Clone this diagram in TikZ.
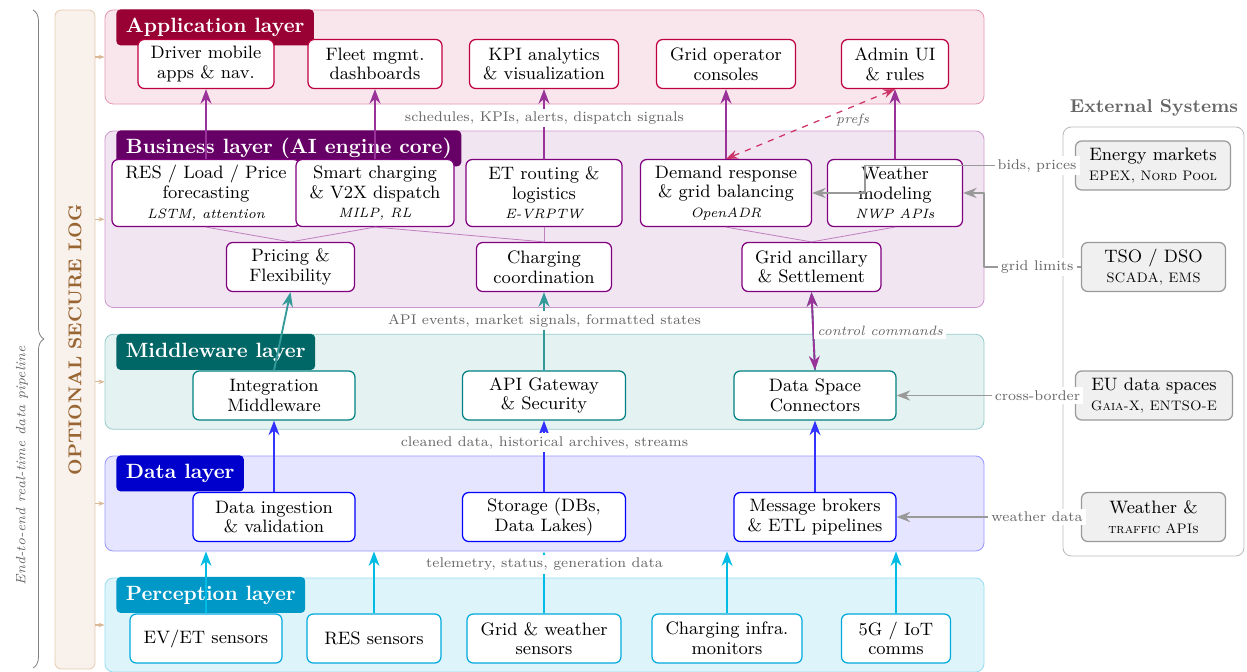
\documentclass[tikz,border=0pt]{standalone}
\usepackage{fontspec}
\usetikzlibrary{arrows.meta,decorations.pathreplacing}
\definecolor{sensor}{HTML}{00AADD}

\begin{document}
\begin{tikzpicture}[x=0.484pt, y=-0.484pt, line join=round, >=Stealth,
	layer/.style={draw=#1!40, fill=#1!10, rounded corners=4pt, inner sep=0pt, minimum width=879*0.484pt},
	lh/.style={minimum height=#1*0.484pt},
	tag/.style={fill=#1, text=white, font=\bfseries, rounded corners=2pt, anchor=north west, inner xsep=4.6pt, minimum height=17.4pt},
	box/.style={draw=#1, fill=white, semithick, rounded corners=3pt, align=center, inner xsep=5.5pt, inner ysep=2pt, minimum height=23.7pt, font=\fontsize{8.7}{9.5}\selectfont},
	tall/.style={minimum height=32.4pt},
	bw/.style={minimum width=#1*0.484pt},
	extbox/.style={box=black!40, fill=black!6},
	note/.style={fill=white, text=black!60, font=\fontsize{6.8}{8}\selectfont, inner sep=1.5pt},
	it/.style={font=\fontsize{6.55}{8}\selectfont\itshape},
	link/.style={violet!50, thin},
	flow/.style={->, line width=0.9pt, #1},
	extlink/.style={->, thick, black!40},
	logarrow/.style={-{Stealth[length=3pt]}, semithick, brown!55}]
	\useasboundingbox (0,0) rectangle (1247,671);

	% secure log column and pipeline brace
	\node[draw=brown!40, fill=brown!10, rounded corners=3pt, inner sep=0pt, minimum width=40*0.484pt, minimum height=659*0.484pt] (log) at (75,339.5) {};
	\node[rotate=90, font=\small\bfseries, text=brown!80!black] (logtxt) at (75,340) {OPTIONAL SECURE LOG};
	\draw[decorate, decoration={brace, amplitude=5.3pt}, black!50] (33,10) -- (33,668);
	\node[rotate=90, anchor=east, it, text=black!60] (pipe) at (22,339) {End-to-end real-time data pipeline};

	% layers
	\node[layer=purple, lh=94] (app) at (544.5,57) {};
	\node[layer=violet, lh=176.5] (bus) at (544.5,219.25) {};
	\node[layer=teal, lh=95] (mid) at (544.5,381.8) {};
	\node[layer=blue, lh=95] (data) at (544.5,503.5) {};
	\node[layer=sensor, lh=94, fill=sensor!13] (perc) at (544.5,625) {};

	\node[tag=purple!80!black] (apptag) at (116,9) {Application layer};
	\node[tag=violet!80!black] (bustag) at (116,130) {Business layer (AI engine core)};
	\node[tag=teal!80!black] (midtag) at (116,333.5) {Middleware layer};
	\node[tag=blue!80!black] (datatag) at (116,455) {Data layer};
	\node[tag=sensor!90!black] (perctag) at (116,576.5) {Perception layer};

	\draw[logarrow] (log.east |- app.west) -- (app.west);
	\draw[logarrow] (log.east |- bus.west) -- (bus.west);
	\draw[logarrow] (log.east |- mid.west) -- (mid.west);
	\draw[logarrow] (log.east |- data.west) -- (data.west);
	\draw[logarrow] (log.east |- perc.west) -- (perc.west);

	% application
	\node[box=purple, bw=136] (drv) at (206,64) {Driver mobile\\apps \& nav.};
	\node[box=purple, bw=134] (fleet) at (375,64) {Fleet mgmt.\\dashboards};
	\node[box=purple, bw=149] (kpi) at (544,64) {KPI analytics\\\& visualization};
	\node[box=purple, bw=139] (gridop) at (726,64) {Grid operator\\consoles};
	\node[box=purple, bw=107] (admin) at (895,64) {Admin UI\\\& rules};

	% business
	\node[box=violet, tall, bw=188] (fcst) at (206,193) {RES / Load / Price\\forecasting\\{\fontsize{6.55}{8}\selectfont\itshape LSTM, attention}};
	\node[box=violet, tall, bw=158] (smart) at (375,193) {Smart charging\\\& V2X dispatch\\{\fontsize{6.55}{8}\selectfont\itshape MILP, RL}};
	\node[box=violet, tall, bw=156] (route) at (544,193) {ET routing \&\\logistics\\{\fontsize{6.55}{8}\selectfont\itshape E-VRPTW}};
	\node[box=violet, tall, bw=171] (dr) at (726,193) {Demand response\\\& grid balancing\\{\fontsize{6.55}{8}\selectfont\itshape OpenADR}};
	\node[box=violet, tall, bw=135] (wxm) at (895,193) {Weather\\modeling\\{\fontsize{6.55}{8}\selectfont\itshape NWP APIs}};
	\node[box=violet, bw=128] (price) at (290.5,267) {Pricing \&\\Flexibility};
	\node[box=violet, bw=135] (chg) at (544,267) {Charging\\coordination};
	\node[box=violet, bw=139] (anc) at (811.5,267) {Grid ancillary\\\& Settlement};

	% middleware
	\node[box=teal, bw=162] (integ) at (274,395.5) {Integration\\Middleware};
	\node[box=teal, bw=163] (apigw) at (544,395.5) {API Gateway\\\& Security};
	\node[box=teal, bw=162] (dsc) at (815,395.5) {Data Space\\Connectors};

	% data
	\node[box=blue, bw=162] (ingest) at (274,517) {Data ingestion\\\& validation};
	\node[box=blue, bw=163] (store) at (544,517) {Storage (DBs,\\Data Lakes)};
	\node[box=blue, bw=162] (msg) at (815,517) {Message brokers\\\& ETL pipelines};

	% perception
	\node[box=sensor, bw=152] (evs) at (206,638.5) {EV/ET sensors};
	\node[box=sensor, bw=134] (ress) at (374,638.5) {RES sensors};
	\node[box=sensor, bw=154] (gws) at (544,638.5) {Grid \& weather\\sensors};
	\node[box=sensor, bw=150] (cim) at (727,638.5) {Charging infra.\\monitors};
	\node[box=sensor, bw=109] (iot) at (896,638.5) {5G / IoT\\comms};

	% external systems
	\node[draw=black!27, rounded corners=4pt, inner sep=0pt, minimum width=181*0.484pt, minimum height=429*0.484pt] (extpanel) at (1153.5,341.5) {};
	\node[font=\small\bfseries, text=black!60] (exttitle) at (1154,108) {External Systems};
	\node[extbox, bw=155] (mkt) at (1153,165.5) {Energy markets\\{\fontsize{6.65}{8}\selectfont\scshape EPEX, Nord Pool}};
	\node[extbox, bw=144] (tso) at (1153.5,267) {TSO / DSO\\{\fontsize{6.65}{8}\selectfont\scshape SCADA, EMS}};
	\node[extbox, bw=157] (eu) at (1154,395.5) {EU data spaces\\{\fontsize{6.65}{8}\selectfont\scshape Gaia-X, ENTSO-E}};
	\node[extbox, bw=144] (wxa) at (1153.5,517) {Weather \&\\{\fontsize{6.65}{8}\selectfont\scshape traffic APIs}};

	% links inside the business layer
	\draw[link] (fcst.south) -- (price.north);
	\draw[link] (smart.south) -- (price.north);
	\draw[link] (smart.south) -- (chg.north);
	\draw[link] (route.south) -- (chg.north);
	\draw[link] (dr.south) -- (anc.north);
	\draw[link] (wxm.south) -- (anc.north);

	% business -> application
	\draw[flow=violet!80] (fcst.north) -- (drv.south);
	\draw[flow=violet!80] (smart.north) -- (fleet.south);
	\draw[flow=violet!80] (route.north) -- (kpi.south);
	\draw[flow=violet!80] (dr.north) -- (gridop.south);
	\draw[flow=violet!80] (wxm.north) -- (admin.south);
	\draw[<->, dashed, semithick, purple!80] (admin.south) -- (dr.north) node[pos=0.25, below, it, text=black!60] (prefslbl) {prefs};

	% middleware -> business
	\draw[flow=teal!80] (integ.north) -- (price.south);
	\draw[flow=teal!80] (apigw.north) -- (chg.south);
	\draw[flow=teal!80] (dsc.north) -- (anc.south);
	\draw[<->, line width=0.9pt, violet!80] (anc.south) -- (dsc.north) node[midway, right, note, it] (cmdlbl) {control commands};

	% data -> middleware
	\draw[flow=blue!80] (ingest.north) -- (integ.south);
	\draw[flow=blue!80] (store.north) -- (apigw.south);
	\draw[flow=blue!80] (msg.north) -- (dsc.south);

	% perception -> data
	\draw[flow=sensor!80!cyan] (evs.north) -- (evs.north |- data.south);
	\draw[flow=sensor!80!cyan] (ress.north) -- (ress.north |- data.south);
	\draw[flow=sensor!80!cyan] (gws.north) -- (gws.north |- data.south);
	\draw[flow=sensor!80!cyan] (cim.north) -- (cim.north |- data.south);
	\draw[flow=sensor!80!cyan] (iot.north) -- (iot.north |- data.south);

	% flow notes between the layers
	\node[note] (n1) at (544.5,118) {schedules, KPIs, alerts, dispatch signals};
	\node[note] (n2) at (544.5,320.5) {API events, market signals, formatted states};
	\node[note] (n3) at (544.5,442.5) {cleaned data, historical archives, streams};
	\node[note] (n4) at (544.5,564.5) {telemetry, status, generation data};

	% external inputs
	\draw[extlink] (mkt.west) -| ([xshift=25.6pt]dr.east) node[pos=0.09, note] (bidslbl) {bids, prices} -- (dr.east);
	\draw[extlink] (tso.west) -| ([xshift=10.2pt]wxm.east) node[pos=0.226, note] (gridlbl) {grid limits} -- (wxm.east);
	\draw[extlink] (eu.west) -- (dsc.east) node[pos=0.21, note] (crosslbl) {cross-border};
	\draw[extlink] (wxa.west) -- (msg.east) node[pos=0.238, note] (wxlbl) {weather data};
\end{tikzpicture}
\end{document}
